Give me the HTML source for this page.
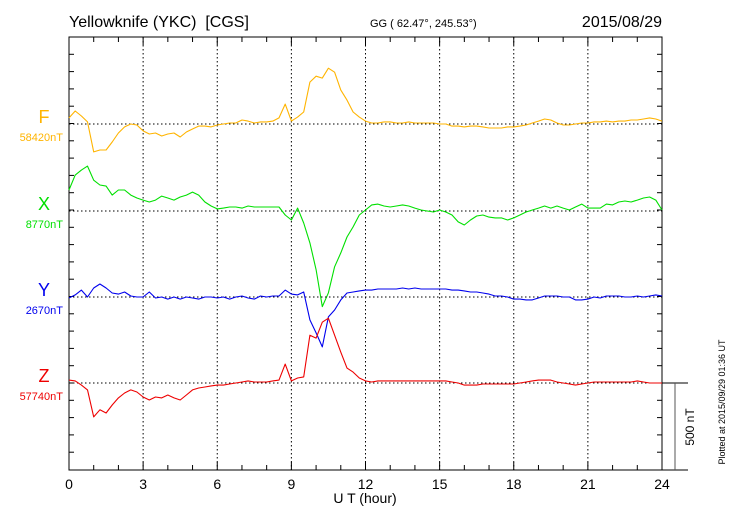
<!DOCTYPE html>
<html><head><meta charset="utf-8"><style>
body{margin:0;background:#fff;}
svg{display:block;font-family:"Liberation Sans",sans-serif;}
</style></head><body>
<svg id="c" width="730" height="520"></svg>
<script>
const hours = [0,3,6,9,12,15,18,21,24];
const baselineLabels = ["58420nT","8770nT","2670nT","57740nT"];
const componentNames = ["F","X","Y","Z"];
const F = [35,75,46,12, -161,-150,-150,-104, -52,-17,0,-6,
 -40,-58,-52,-69, -58,-52,-75,-46, -29,-12,-12,-17,
 -6,0,6,6, 23,17,6,12, 12,17,35,115,
 17,40,69,242, 276,265,322,299, 196,138,69,40,
 17,6,6,12, 12,6,6,12, 6,6,6,6,
 0,0,-12,-12, -17,-12,-12,-17, -23,-23,-23,-17,
 -17,-12,-6,6, 17,29,23,6, -6,-6,0,6,
 6,12,12,17, 12,17,17,23, 23,29,35,29,
 17];
const X = [121,207,236,259, 178,150,144,92, 121,121,92,75,
 63,52,63,86, 75,63,81,92, 109,92,52,29,
 12,17,23,23, 17,29,23,23, 23,23,23,-23,
 -52,17,-69,-184, -339,-552,-472,-322, -242,-150,-92,-23,
 6,35,40,29, 23,29,35,29, 17,6,0,-6,
 6,-6,-23,-63, -81,-52,-29,-23, -35,-40,-40,-52,
 -40,-23,-6,6, 17,29,17,29, 17,6,23,40,
 17,17,17,40, 35,52,58,52, 63,75,81,63,
 6];
const Y = [-6,12,40,0, 52,75,52,23, 17,29,6,0,
 0,29,-6,0, -12,0,-12,0, -6,-12,0,0,
 -6,0,-12,0, 6,-6,-12,6, 0,6,6,40,
 17,12,29,-132, -207,-288,-115,-75, -17,23,29,35,
 40,40,46,46, 46,46,52,46, 52,46,46,46,
 46,46,40,40, 35,29,29,23, 17,6,6,0,
 -12,-12,-17,-17, -6,6,6,6, 0,0,-17,-17,
 -12,0,-6,6, 6,6,0,0, 6,0,6,12,
 6];
const Z = [17,12,-12,-40, -196,-155,-173,-127, -86,-58,-40,-52,
 -81,-98,-81,-86, -69,-86,-98,-69, -40,-29,-23,-17,
 -12,-12,-6,0, 6,12,6,6, 6,12,17,109,
 12,29,35,276, 259,351,374,276, 178,86,63,29,
 12,6,12,12, 12,12,12,12, 12,12,12,12,
 12,12,6,0, -12,-12,-12,-6, -6,-6,-6,-6,
 -6,0,6,12, 17,17,17,6, 0,-6,-12,-6,
 0,6,6,6, 6,6,6,6, 12,6,0,0,
 0];
const series = [F,X,Y,Z];
const colors = ["#ffb400","#00e000","#0000ee","#ee0000"];

const NS="http://www.w3.org/2000/svg";
const svg=document.getElementById('c');
const L=69,R=662,T=37,B=470;
const pxPerNT=0.1732;
const baselines=[124,211,297,383];
const xs=h=>L+(R-L)*h/24;
const ys=(v,i)=>baselines[i]-v*pxPerNT;
function mk(tag,attrs,parent){const e=document.createElementNS(NS,tag);for(const k in attrs)e.setAttribute(k,attrs[k]);(parent||svg).appendChild(e);return e;}

let fr=mk('rect',{x:L,y:T,width:R-L,height:B-T,fill:'none',stroke:'#000','stroke-width':1});


for(let h=0;h<=24;h++){
  const x=xs(h), len=(h%3===0)?8:5;
  let t1=mk('line',{x1:x,y1:B,x2:x,y2:B-len,stroke:'#000'});
  
  
  let t2=mk('line',{x1:x,y1:T,x2:x,y2:T+len,stroke:'#000'});
  
  
}
for(let y=T+17.3;y<B-1;y+=17.3){
  let a=mk('line',{x1:L,y1:y,x2:L+5,y2:y,stroke:'#000'});
  
  
  let b=mk('line',{x1:R,y1:y,x2:R-5,y2:y,stroke:'#000'});
  
  
}
hours.forEach(h=>{
  const x=xs(h);
  if(h>0&&h<24){let g=mk('line',{x1:x,y1:T,x2:x,y2:B,stroke:'#000','stroke-dasharray':'1.5,2.5'});
  
  }
  let t=mk('text',{x:x,y:489,'font-size':14,'text-anchor':'middle'});
  t.textContent=h;
  
  
});
series.forEach((s,i)=>{
  const by=baselines[i];
  let g=mk('line',{x1:L,y1:by,x2:R,y2:by,stroke:'#000','stroke-dasharray':'1.5,2.5'});
  
  
  const step=24/(s.length-1);
  const pts=s.map((v,j)=>xs(j*step).toFixed(1)+','+ys(v,i).toFixed(1)).join(' ');
  let p=mk('polyline',{points:pts,fill:'none',stroke:colors[i],'stroke-width':1.1,'stroke-linejoin':'round'});
  
  
  let n=mk('text',{x:44,y:by-1,'font-size':18,fill:colors[i],'text-anchor':'middle'});
  n.textContent=componentNames[i];
  
  
  let b=mk('text',{x:63,y:by+17,'font-size':11,fill:colors[i],'text-anchor':'end'});
  b.textContent=baselineLabels[i];
  
  
});
let e1=mk('line',{x1:R,y1:383,x2:688,y2:383,stroke:'#000'});


let e2=mk('line',{x1:R,y1:B,x2:688,y2:B,stroke:'#000'});


let e3=mk('line',{x1:675,y1:383,x2:675,y2:B,stroke:'#555'});


</script>
<svg width="730" height="520" style="position:absolute;left:0;top:0">
<text x="69" y="27" font-size="16" font-family="Liberation Sans, sans-serif" xml:space="preserve">Yellowknife (YKC)  [CGS]</text>
<text x="370" y="27" font-size="11" font-family="Liberation Sans, sans-serif">GG ( 62.47°, 245.53°)</text>
<text x="662" y="27" font-size="16" text-anchor="end" font-family="Liberation Sans, sans-serif">2015/08/29</text>
<text x="365" y="503" font-size="14" text-anchor="middle" font-family="Liberation Sans, sans-serif">U T (hour)</text>
<text transform="translate(694,427) rotate(-90)" font-size="12" text-anchor="middle" font-family="Liberation Sans, sans-serif">500 nT</text>
<text transform="translate(725,402) rotate(-90)" font-size="9" text-anchor="middle" font-family="Liberation Sans, sans-serif">Plotted at 2015/09/29 01:36 UT</text>
</svg>
</body></html>
